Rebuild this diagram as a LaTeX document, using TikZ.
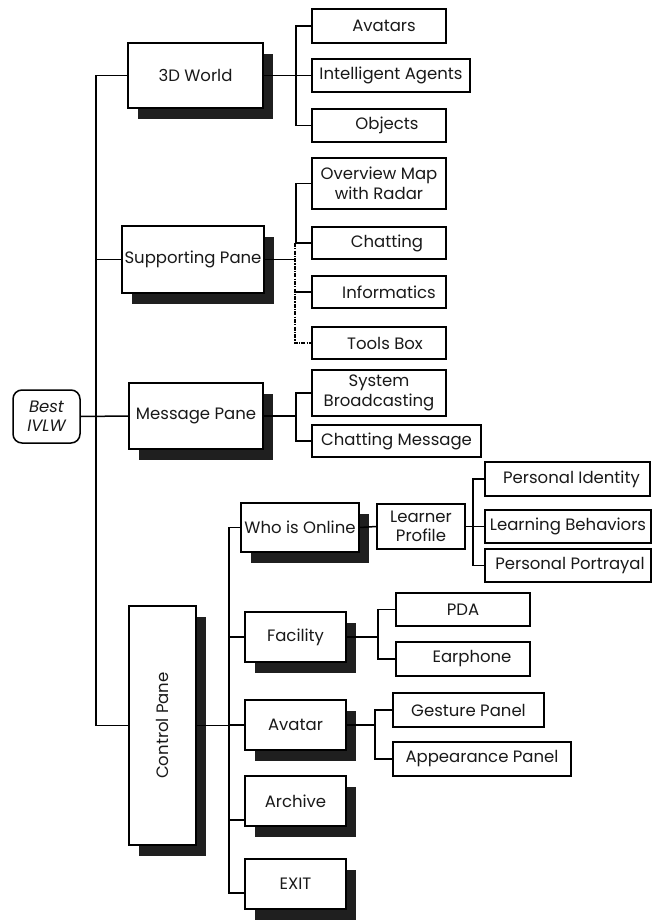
\documentclass[tikz,border=0pt]{standalone}
\usepackage{fontspec}
\setmainfont{Poppins}
\usetikzlibrary{shadows}
\newcommand{\boxfont}{\fontsize{16.5}{19.5}\selectfont}
\tikzset{
  box/.style={draw, line width=1.5pt, fill=white, inner sep=0.5pt, align=center, font=\boxfont, text=black!90},
  sbox/.style={box, general shadow={fill=black!88, shadow xshift=10pt, shadow yshift=-11pt}},
  tshift/.style={execute at begin node={\hspace*{#1}}},
  conn/.style={line width=1.5pt},
  dconn/.style={line width=1.7pt, dash pattern=on 4pt off 1.2pt on 1.2pt off 1.2pt},
}
\begin{document}
\begin{tikzpicture}[x=1pt, y={(0pt,-1pt)}]
\useasboundingbox (0,0) rectangle (654,920);
% level 1
\node[sbox, minimum width=135pt, minimum height=65pt] (w3d) at (195.5,75.5) {3D World};
\node[sbox, minimum width=142pt, minimum height=67pt] (sup) at (193,259.5) {Supporting Pane};
\node[sbox, minimum width=134pt, minimum height=66pt] (msg) at (196,416) {Message Pane};
\node[sbox, minimum width=67pt, minimum height=239pt] (ctrl) at (162.5,725.5) {\rotatebox{90}{Control Pane}};
\node[box, rounded corners=9pt, minimum width=67pt, minimum height=53pt, font=\boxfont\itshape] (best) at (46.5,416.5) {Best\\IVLW};
% 3D world children
\node[box, minimum width=134pt, minimum height=34pt, tshift=10pt] (avatars) at (379,26) {Avatars};
\node[box, minimum width=158pt, minimum height=33pt] (agents) at (391,75.5) {Intelligent Agents};
\node[box, minimum width=134pt, minimum height=33pt, tshift=16pt] (objects) at (379,125.5) {Objects};
% supporting children
\node[box, minimum width=134pt, minimum height=51pt] (overview) at (379,183.5) {Overview Map\\with Radar};
\node[box, minimum width=134pt, minimum height=32pt, tshift=16pt] (chat) at (379,243) {Chatting};
\node[box, minimum width=134pt, minimum height=32pt, tshift=20pt] (info) at (379,292) {Informatics};
\node[box, minimum width=134pt, minimum height=32pt, tshift=12pt] (tools) at (379,343) {Tools Box};
% message children
\node[box, minimum width=134pt, minimum height=46pt] (sysb) at (379,393) {System\\Broadcasting};
\node[box, minimum width=169pt, minimum height=32pt] (chatmsg) at (396.5,441) {Chatting Message};
% control children
\node[sbox, minimum width=118pt, minimum height=49pt] (who) at (300,527.5) {Who is Online};
\node[box, minimum width=88pt, minimum height=45pt] (lp) at (421,526.5) {Learner\\Profile};
\node[box, minimum width=165pt, minimum height=34pt, tshift=8pt] (pid) at (567.5,479) {Personal Identity};
\node[box, minimum width=166pt, minimum height=33pt] (pbeh) at (568,526.5) {Learning Behaviors};
\node[box, minimum width=166pt, minimum height=33pt, tshift=4pt] (ppor) at (568,565.5) {Personal Portrayal};
\node[sbox, minimum width=101pt, minimum height=50pt] (fac) at (295.5,637) {Facility};
\node[box, minimum width=134pt, minimum height=33pt] (pda) at (463,609.5) {PDA};
\node[box, minimum width=134pt, minimum height=34pt, tshift=18pt] (ear) at (463,659) {Earphone};
\node[sbox, minimum width=101pt, minimum height=50pt] (ava) at (295.5,725) {Avatar};
\node[box, minimum width=151pt, minimum height=34pt] (gest) at (468.5,710) {Gesture Panel};
\node[box, minimum width=178pt, minimum height=34pt] (app) at (482,759) {Appearance Panel};
\node[sbox, minimum width=101pt, minimum height=50pt] (arch) at (295.5,801) {Archive};
\node[sbox, minimum width=101pt, minimum height=50pt] (exit) at (295.5,884) {EXIT};
% bus coordinates
\coordinate (trunk) at (96,0);
\coordinate (b1) at (296,0);
\coordinate (b2) at (229,0);
\coordinate (b3) at (473,0);
\coordinate (b4) at (378,0);
\coordinate (b5) at (375,0);
\coordinate (archc) at ([yshift=-19pt]arch.west);
\coordinate (exitc) at ([yshift=-9pt]exit.west);
% connectors
\begin{scope}[conn]
\draw (w3d.west) -| (trunk |- ctrl.west) -- (ctrl.west);
\draw (sup.west) -- (sup.west -| trunk);
\draw (best.east) -- (msg.west);
\draw (w3d.east) -- (w3d.east -| b1);
\draw (avatars.west) -| (b1 |- objects.west) -- (objects.west);
\draw (agents.west) -- (agents.west -| b1);
\draw (sup.east) -- (sup.east -| b1);
\draw (overview.west) -| (b1 |- chat.west) -- (chat.west);
\draw (info.west) -- (info.west -| b1);
\draw (msg.east) -- (msg.east -| b1);
\draw (sysb.west) -| (b1 |- chatmsg.west) -- (chatmsg.west);
\draw (ctrl.east) -- (ctrl.east -| b2);
\draw (who.west) -| (b2 |- exitc) -- (exitc);
\draw (fac.west) -- (fac.west -| b2);
\draw (ava.west) -- (ava.west -| b2);
\draw (archc) -- (archc -| b2);
\draw (who.east) -- (lp.west);
\draw (lp.east) -- (pbeh.west);
\draw (pid.west) -| (b3 |- ppor.west) -- (ppor.west);
\draw (fac.east) -- (fac.east -| b4);
\draw (pda.west) -| (b4 |- ear.west) -- (ear.west);
\draw (ava.east) -- (ava.east -| b5);
\draw (gest.west) -| (b5 |- app.west) -- (app.west);
\end{scope}
\draw[dconn] ([xshift=-1pt]b1 |- chat.west) -- ([xshift=-1pt]b1 |- tools.west) -- (tools.west);
\end{tikzpicture}
\end{document}
